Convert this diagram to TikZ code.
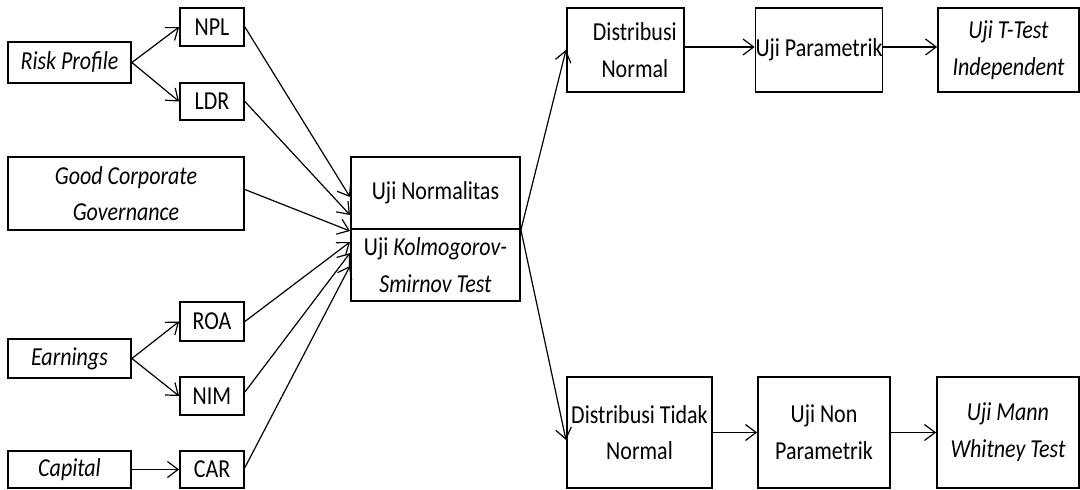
\documentclass[tikz,border=0pt]{standalone}
\usepackage{fontspec}
\setmainfont{Carlito}[FakeStretch=0.85]
\usetikzlibrary{arrows.meta,calc}
\newcommand\bx[6]{\node[box,minimum width={(#4-#2)*0.75pt},minimum height={(#5-#3)*0.75pt}] (#1) at ({(#2+#4)/2},{(#3+#5)/2}) {#6};}
\begin{document}
\begin{tikzpicture}[x=0.75pt,y=-0.75pt,
 box/.style={draw,line width=1.35pt,inner sep=0pt,align=center,font=\fontsize{19.4}{27.5}\selectfont},
 arr/.style={line width=0.9pt,-{Straight Barb[length=8pt,width=12pt,line width=0.9pt]}}]
\useasboundingbox (0,0) rectangle (1080,489);
% left column
\bx{rp}{8}{42}{131}{83}{\itshape Risk Profile}
\bx{npl}{180}{8}{244}{46}{NPL}
\bx{ldr}{180}{83}{244}{120}{LDR}
\bx{gcg}{8}{157}{244}{230}{\itshape Good Corporate\\\itshape Governance}
\bx{earn}{8}{339}{131}{378}{\itshape Earnings}
\bx{roa}{180}{302}{244}{341}{ROA}
\bx{nim}{180}{377}{244}{415}{NIM}
\bx{cap}{8}{451}{131}{488}{\itshape Capital}
\bx{car}{180}{451}{244}{488}{CAR}
% centre
\bx{norm}{351}{157}{520}{229}{Uji Normalitas}
\bx{ks}{351}{229}{520}{301}{Uji \textit{Kolmogorov-}\\\textit{Smirnov Test}}
% right
\bx{dn}{567}{8}{684}{92}{\hspace*{14pt}Distribusi\\\hspace*{14pt}Normal}
\bx{up}{758}{8}{880}{92}{Uji Parametrik}
\bx{tt}{938}{8}{1079}{92}{\itshape Uji T-Test\\\itshape Independent}
\bx{dtn}{567}{377}{712}{488}{Distribusi Tidak\\Normal}
\bx{unp}{758}{377}{890}{488}{Uji Non\\Parametrik}
\bx{mw}{937}{377}{1079}{488}{\itshape Uji Mann\\\itshape Whitney Test}
% convergence points
\coordinate (c1) at (350,197);
\coordinate (c2) at (350,215);
\coordinate (c3) at (350,231);
\coordinate (c4) at (350,242);
\coordinate (c5) at (350,253);
\coordinate (c6) at (350,266);
\coordinate (dnin) at (566,50);
\coordinate (dtnin) at (566,440);
% arrows
\draw[arr] (rp.east) -- (npl.west);
\draw[arr] (rp.east) -- (ldr.west);
\draw[arr] (earn.east) -- (roa.west);
\draw[arr] (earn.east) -- (nim.west);
\draw[arr] (cap.east) -- (car.west);
\draw[arr] (npl.east) -- (c1);
\draw[arr] (ldr.east) -- (c2);
\draw[arr] ($(gcg.east)+(0,-4)$) -- (c3);
\draw[arr] (roa.east) -- (c4);
\draw[arr] ($(nim.east)+(0,-4)$) -- (c5);
\draw[arr] ($(car.east)+(0,-2)$) -- (c6);
\draw[arr] (norm.south east) -- (dnin);
\draw[arr] (norm.south east) -- (dtnin);
\draw[arr] ($(dn.east)+(0,-3)$) -- ($(up.west)+(0,-3)$);
\draw[arr] ($(up.east)+(0,-3)$) -- ($(tt.west)+(0,-3)$);
\draw[arr] (dtn.east) -- (unp.west);
\draw[arr] (unp.east) -- (mw.west);
\end{tikzpicture}
\end{document}
